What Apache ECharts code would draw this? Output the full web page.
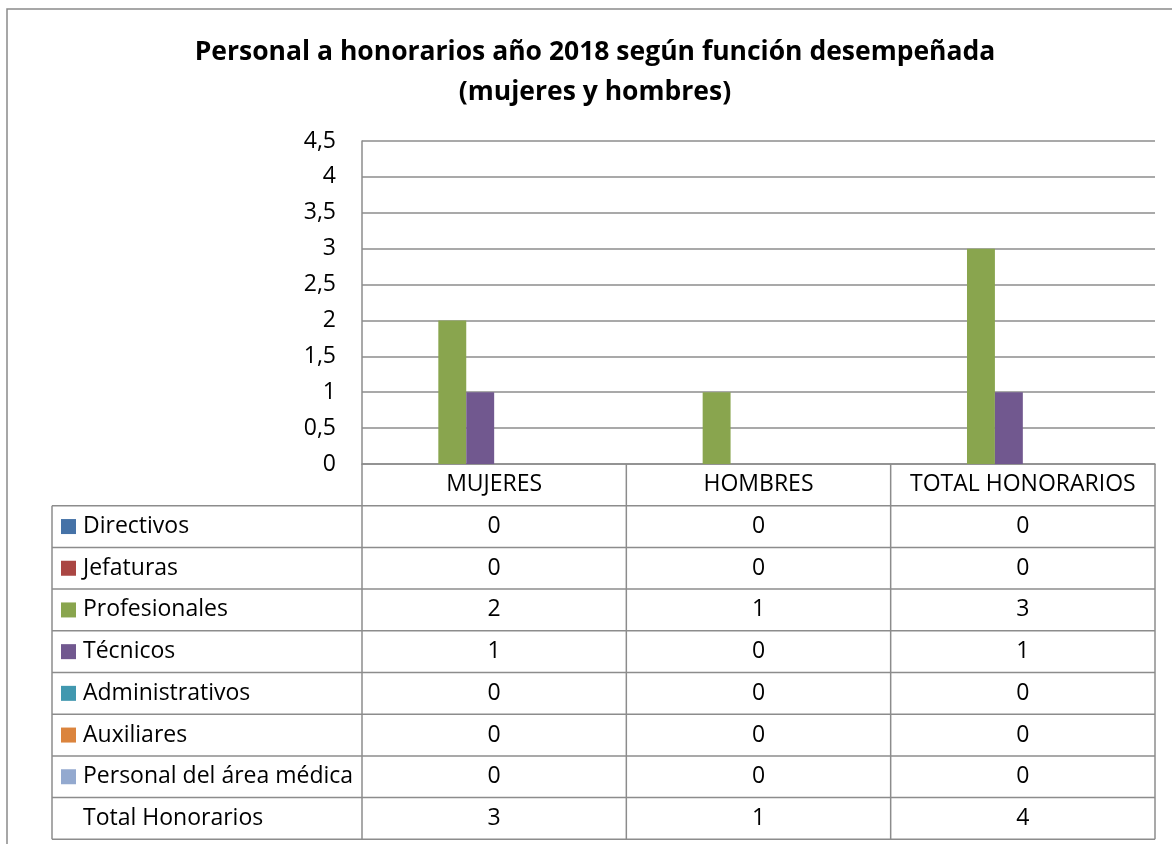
<!DOCTYPE html>
<html>
<head>
<meta charset="utf-8">
<script src="https://cdn.jsdelivr.net/npm/echarts@6/dist/echarts.min.js"></script>
<style>
  html, body { margin: 0; padding: 0; background: #fff; }
  #main { width: 1172px; height: 844px; }
</style>
</head>
<body>
<div id="main"></div>
<script>
// categorias (columnas de la tabla)
var categories = ["MUJERES", "HOMBRES", "TOTAL HONORARIOS"];
// series por función
var directivos = [0, 0, 0];
var jefaturas = [0, 0, 0];
var profesionales = [2, 1, 3];
var tecnicos = [1, 0, 1];
var administrativos = [0, 0, 0];
var auxiliares = [0, 0, 0];
var personalMedica = [0, 0, 0];
var totalHonorarios = [3, 1, 4];

var seriesNames = ["Directivos", "Jefaturas", "Profesionales", "Técnicos",
  "Administrativos", "Auxiliares", "Personal del área médica", "Total Honorarios"];
var seriesValues = [directivos, jefaturas, profesionales, tecnicos,
  administrativos, auxiliares, personalMedica, totalHonorarios];
// Total Honorarios no tiene color (sin relleno en el original)
var kcolor = ["#4572A7", "#AA4643", "#89A54E", "#71588F", "#4198AF", "#DB843D", "#93A9CF", null];

var FONT = "Open Sans";
var FS = 23;
var LINE = "#8c8c8c";

var chart = echarts.init(document.getElementById("main"));

var seriesData = [];
for (var k = 0; k < seriesNames.length; k++) {
  seriesData.push({
    name: seriesNames[k],
    type: "bar",
    barGap: "0%",
    barCategoryGap: "15.5%",
    itemStyle: { color: kcolor[k] || "rgba(0,0,0,0)" },
    data: seriesValues[k],
    animation: false
  });
}

var option = {
  animation: false,
  textStyle: { fontFamily: FONT, color: "#000" },
  title: {
    text: "Personal a honorarios año 2018 según función desempeñada\n(mujeres y hombres)",
    left: 595,
    top: 32,
    padding: 0,
    textAlign: "center",
    textStyle: { fontFamily: FONT, fontWeight: "bold", fontSize: 26.5, lineHeight: 40, color: "#000" }
  },
  grid: { left: 362, right: 17, top: 141, bottom: 380, containLabel: false },
  xAxis: {
    type: "category",
    data: categories,
    axisLine: { show: true, lineStyle: { color: LINE, width: 1.5 } },
    axisTick: { show: false },
    axisLabel: { interval: 0, color: "#000", fontFamily: FONT, fontSize: FS, margin: 9 }
  },
  yAxis: {
    type: "value",
    min: 0,
    max: 4.5,
    interval: 0.5,
    axisLine: { show: true, lineStyle: { color: LINE, width: 1.5 } },
    axisTick: { show: false },
    splitLine: { lineStyle: { color: LINE, width: 1.5 } },
    axisLabel: {
      color: "#000", fontFamily: FONT, fontSize: FS, margin: 26,
      formatter: function (v) { return String(v).replace(".", ","); }
    }
  },
  series: seriesData
};
chart.setOption(option);

// tabla de datos bajo el eje
var x0 = chart.convertToPixel({ gridIndex: 0 }, [0, 0]);
var x1 = chart.convertToPixel({ gridIndex: 0 }, [1, 0]);
var band = x1[0] - x0[0];
var yTop = x0[1];
var rowH = 41.7;
var colEdges = [];
for (var c = 0; c <= categories.length; c++) colEdges.push(x0[0] - band / 2 + c * band);
var tableLeft = 52;
var headerBottom = yTop + rowH;
var tableBottom = headerBottom + rowH * seriesNames.length;

var g = [];
g.push({
  type: "rect", silent: true,
  shape: { x: 7, y: 9, width: 1300, height: 1000 },
  style: { fill: null, stroke: "#8a8a8a", lineWidth: 1.5 }
});
function hline(y, xa, xb) {
  g.push({ type: "line", silent: true, shape: { x1: xa, y1: y, x2: xb, y2: y }, style: { stroke: LINE, lineWidth: 1.5 } });
}
function vline(x, ya, yb) {
  g.push({ type: "line", silent: true, shape: { x1: x, y1: ya, x2: x, y2: yb }, style: { stroke: LINE, lineWidth: 1.5 } });
}
for (var r = 0; r <= seriesNames.length; r++) hline(headerBottom + r * rowH, tableLeft, colEdges[colEdges.length - 1]);
vline(tableLeft, headerBottom, tableBottom);
for (c = 0; c < colEdges.length; c++) vline(colEdges[c], yTop, tableBottom);

for (r = 0; r < seriesNames.length; r++) {
  var cy = headerBottom + r * rowH + rowH / 2;
  if (kcolor[r]) {
    g.push({ type: "rect", silent: true, shape: { x: 61, y: cy - 7.5, width: 15, height: 15 }, style: { fill: kcolor[r] } });
  }
  g.push({
    type: "text", silent: true, x: 83, y: cy,
    style: { text: seriesNames[r], font: FS + "px " + FONT, fill: "#000", textAlign: "left", textVerticalAlign: "middle" }
  });
  for (c = 0; c < categories.length; c++) {
    g.push({
      type: "text", silent: true, x: (colEdges[c] + colEdges[c + 1]) / 2, y: cy,
      style: { text: String(seriesValues[r][c]), font: FS + "px " + FONT, fill: "#000", textAlign: "center", textVerticalAlign: "middle" }
    });
  }
}
chart.setOption({ graphic: g });
</script>
</body>
</html>
